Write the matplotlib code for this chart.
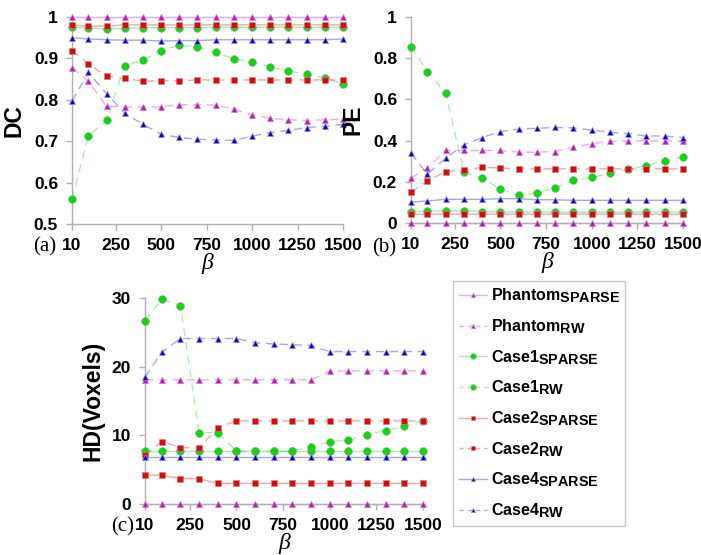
import numpy as np
import matplotlib
matplotlib.use('Agg')
import matplotlib.pyplot as plt
import matplotlib._mathtext as mathtext_internals
from matplotlib.lines import Line2D

plt.rcParams['font.family'] = ['Liberation Sans', 'DejaVu Sans']
plt.rcParams['mathtext.fontset'] = 'custom'
plt.rcParams['mathtext.rm'] = 'Liberation Sans'
plt.rcParams['mathtext.bf'] = 'Liberation Sans:bold'
# subscripts in the legend are almost as large as the main text
mathtext_internals.SHRINK_FACTOR = 0.9

beta = [10, 100, 200, 300, 400, 500, 600, 700, 800, 900, 1000, 1100, 1200, 1300, 1400, 1500]
xticks = [10, 250, 500, 750, 1000, 1250, 1500]

# (a) DC
dc_phantom_sparse = [1.0] * 16
dc_phantom_rw = [0.878, 0.845, 0.784, 0.783, 0.783, 0.783, 0.788, 0.788, 0.787, 0.777, 0.764, 0.755, 0.752, 0.750, 0.752, 0.753]
dc_case1_sparse = [0.975, 0.974, 0.971, 0.973, 0.974, 0.974, 0.974, 0.974, 0.975, 0.975, 0.975, 0.975, 0.975, 0.975, 0.975, 0.975]
dc_case1_rw = [0.560, 0.713, 0.751, 0.882, 0.896, 0.919, 0.932, 0.928, 0.915, 0.899, 0.891, 0.880, 0.869, 0.863, 0.852, 0.839]
dc_case2_sparse = [0.981, 0.978, 0.978, 0.981, 0.981, 0.981, 0.981, 0.981, 0.981, 0.981, 0.981, 0.981, 0.981, 0.981, 0.981, 0.981]
dc_case2_rw = [0.919, 0.887, 0.857, 0.852, 0.845, 0.846, 0.846, 0.848, 0.848, 0.848, 0.848, 0.848, 0.848, 0.848, 0.848, 0.848]
dc_case4_sparse = [0.950, 0.947, 0.945, 0.944, 0.944, 0.942, 0.943, 0.943, 0.945, 0.945, 0.945, 0.945, 0.945, 0.945, 0.945, 0.947]
dc_case4_rw = [0.797, 0.866, 0.815, 0.767, 0.741, 0.717, 0.709, 0.705, 0.703, 0.702, 0.712, 0.721, 0.726, 0.733, 0.736, 0.741]

# (b) PE
pe_phantom_sparse = [0.0] * 16
pe_phantom_rw = [0.218, 0.267, 0.352, 0.352, 0.352, 0.352, 0.344, 0.344, 0.347, 0.368, 0.385, 0.396, 0.397, 0.400, 0.397, 0.397]
pe_case1_sparse = [0.055, 0.058, 0.060, 0.060, 0.055, 0.054, 0.054, 0.054, 0.052, 0.052, 0.052, 0.052, 0.052, 0.054, 0.054, 0.054]
pe_case1_rw = [0.855, 0.735, 0.630, 0.247, 0.220, 0.163, 0.134, 0.147, 0.171, 0.207, 0.221, 0.242, 0.262, 0.279, 0.299, 0.321]
pe_case2_sparse = [0.042, 0.043, 0.043, 0.043, 0.043, 0.043, 0.043, 0.043, 0.043, 0.043, 0.043, 0.043, 0.043, 0.043, 0.043, 0.043]
pe_case2_rw = [0.149, 0.205, 0.250, 0.257, 0.270, 0.267, 0.263, 0.263, 0.263, 0.263, 0.263, 0.263, 0.263, 0.263, 0.263, 0.263]
pe_case4_sparse = [0.102, 0.107, 0.115, 0.115, 0.115, 0.118, 0.118, 0.113, 0.113, 0.110, 0.110, 0.110, 0.110, 0.110, 0.110, 0.110]
pe_case4_rw = [0.338, 0.237, 0.315, 0.380, 0.415, 0.444, 0.456, 0.460, 0.464, 0.462, 0.451, 0.441, 0.433, 0.423, 0.422, 0.415]

# (c) HD
hd_phantom_sparse = [0.0] * 16
hd_phantom_rw = [18.1, 18.1, 18.1, 18.1, 18.1, 18.1, 18.1, 18.1, 18.1, 18.1, 19.3, 19.4, 19.4, 19.4, 19.4, 19.4]
hd_case1_sparse = [7.7] * 16
hd_case1_rw = [26.7, 29.8, 28.9, 10.4, 10.4, 7.7, 7.7, 7.7, 7.7, 8.3, 9.1, 9.3, 10.1, 10.7, 11.4, 12.1]
hd_case2_sparse = [4.2, 4.2, 3.7, 3.7, 3.0, 3.0, 3.0, 3.0, 3.0, 3.0, 3.0, 3.0, 3.0, 3.0, 3.0, 3.0]
hd_case2_rw = [7.1, 9.1, 8.2, 8.2, 11.1, 12.1, 12.1, 12.1, 12.1, 12.1, 12.1, 12.1, 12.1, 12.1, 12.1, 12.1]
hd_case4_sparse = [6.8] * 16
hd_case4_rw = [18.5, 22.1, 24.1, 24.1, 24.1, 24.1, 23.5, 23.3, 23.2, 23.1, 22.2, 22.2, 22.2, 22.2, 22.2, 22.2]

labels = [r'Phantom$_{\mathbf{SPARSE}}$', r'Phantom$_{\mathbf{RW}}$',
          r'Case1$_{\mathbf{SPARSE}}$', r'Case1$_{\mathbf{RW}}$',
          r'Case2$_{\mathbf{SPARSE}}$', r'Case2$_{\mathbf{RW}}$',
          r'Case4$_{\mathbf{SPARSE}}$', r'Case4$_{\mathbf{RW}}$']
colors = ['#dd00dd', '#dd00dd', '#00dd00', '#00dd00', '#ee0000', '#ee0000', '#0000dd', '#0000dd']
markers = ['^', '^', 'o', 'o', 's', 's', '^', '^']
msizes = [4.5, 4.5, 5.5, 5.5, 5, 5, 4.5, 4.5]
styles = ['-', '--', '-', '--', '-', '--', '-', '--']

grey = '#b0b0b0'
tick_fs = 12.5
ylab_fs = 16.5


def draw(ax, series):
    for i, ys in enumerate(series):
        ax.plot(beta, ys, linestyle=styles[i], color=colors[i], alpha=0.35, linewidth=1.0,
                dashes=(6, 4) if styles[i] == '--' else (None, None), clip_on=False, zorder=2)
        ax.plot(beta, ys, linestyle='none', marker=markers[i], markersize=msizes[i],
                markerfacecolor=colors[i], markeredgecolor='#999999', markeredgewidth=0.5,
                clip_on=False, zorder=3)
    ax.set_xlim(10, 1500)
    ax.set_xticks(xticks)
    for s in ['top', 'right']:
        ax.spines[s].set_visible(False)
    for s in ['left', 'bottom']:
        ax.spines[s].set_color(grey)
        ax.spines[s].set_linewidth(1.0)
    ax.tick_params(colors=grey, length=4, width=1, direction='out', pad=6)
    for lab in ax.get_xticklabels() + ax.get_yticklabels():
        lab.set_color('black')
        lab.set_fontweight('bold')
        lab.set_fontsize(tick_fs)
    ax.set_xlabel('β', family='Liberation Serif', style='italic', fontsize=17, labelpad=0)


fig = plt.figure(figsize=(7.01, 5.55), dpi=100)

ax1 = fig.add_axes([72 / 701, 1 - 224 / 555, 271 / 701, 207 / 555])
draw(ax1, [dc_phantom_sparse, dc_phantom_rw, dc_case1_sparse, dc_case1_rw,
           dc_case2_sparse, dc_case2_rw, dc_case4_sparse, dc_case4_rw])
ax1.set_ylim(0.5, 1)
ax1.set_yticks([0.5, 0.6, 0.7, 0.8, 0.9, 1])
ax1.set_yticklabels(['0.5', '0.6', '0.7', '0.8', '0.9', '1'], fontweight='bold', fontsize=tick_fs)
ax1.set_ylabel('DC', fontweight='bold', fontsize=ylab_fs, labelpad=6)

ax2 = fig.add_axes([411 / 701, 1 - 223 / 555, 272 / 701, 206 / 555])
draw(ax2, [pe_phantom_sparse, pe_phantom_rw, pe_case1_sparse, pe_case1_rw,
           pe_case2_sparse, pe_case2_rw, pe_case4_sparse, pe_case4_rw])
ax2.set_ylim(0, 1)
ax2.set_yticks([0, 0.2, 0.4, 0.6, 0.8, 1])
ax2.set_yticklabels(['0', '0.2', '0.4', '0.6', '0.8', '1'], fontweight='bold', fontsize=tick_fs)
ax2.set_ylabel('PE', fontweight='bold', fontsize=ylab_fs, labelpad=6)

ax3 = fig.add_axes([145 / 701, 1 - 504 / 555, 278 / 701, 206 / 555])
draw(ax3, [hd_phantom_sparse, hd_phantom_rw, hd_case1_sparse, hd_case1_rw,
           hd_case2_sparse, hd_case2_rw, hd_case4_sparse, hd_case4_rw])
ax3.set_ylim(0, 30)
ax3.set_yticks([0, 10, 20, 30])
ax3.set_yticklabels(['0', '10', '20', '30'], fontweight='bold', fontsize=tick_fs)
ax3.set_ylabel('HD(Voxels)', fontweight='bold', fontsize=ylab_fs, labelpad=5)

fig.text(33 / 701, 1 - 247 / 555, '(a)', family='Liberation Serif', fontsize=15, va='center')
fig.text(372 / 701, 1 - 248 / 555, '(b)', family='Liberation Serif', fontsize=15, va='center')
fig.text(111 / 701, 1 - 527 / 555, '(c)', family='Liberation Serif', fontsize=15, va='center')

lines = [Line2D([0], [0], linestyle=styles[i], color=colors[i], alpha=0.35, linewidth=1.0,
                dashes=(3, 3) if styles[i] == '--' else (None, None))
         for i in range(8)]
marks = [Line2D([0], [0], linestyle='none', marker=markers[i], markersize=msizes[i] - 1.5,
                markerfacecolor=colors[i], markeredgecolor='#999999', markeredgewidth=0.5)
         for i in range(8)]
leg = fig.legend([(ln, mk) for ln, mk in zip(lines, marks)], labels,
                 loc='upper left', bbox_to_anchor=(453 / 701, 1 - 281 / 555),
                 borderaxespad=0, fancybox=False, edgecolor='#c8c8c8', framealpha=1,
                 prop={'size': 11.5, 'weight': 'bold'}, handlelength=1.75, handletextpad=0.25,
                 labelspacing=0.75, borderpad=0.35)
leg.get_frame().set_linewidth(1.0)

fig.savefig('out.png', dpi=100)
